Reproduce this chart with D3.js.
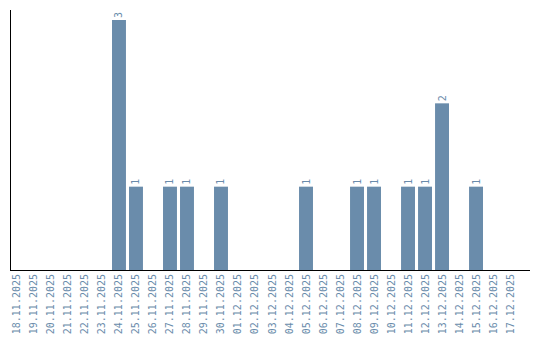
<!DOCTYPE html>
<html>
<head>
<meta charset="utf-8">
<script src="https://cdn.jsdelivr.net/npm/d3@7"></script>
<style>
  body { margin: 0; background: #fff; }
  text { font-family: "DejaVu Sans Mono", monospace; font-size: 10px; fill: #6a8cab; }
</style>
</head>
<body>
<svg id="chart" width="540" height="340"></svg>
<script>
// dates shown on the x axis
var days = [
  "18.11.2025", "19.11.2025", "20.11.2025", "21.11.2025", "22.11.2025",
  "23.11.2025", "24.11.2025", "25.11.2025", "26.11.2025", "27.11.2025",
  "28.11.2025", "29.11.2025", "30.11.2025", "01.12.2025", "02.12.2025",
  "03.12.2025", "04.12.2025", "05.12.2025", "06.12.2025", "07.12.2025",
  "08.12.2025", "09.12.2025", "10.12.2025", "11.12.2025", "12.12.2025",
  "13.12.2025", "14.12.2025", "15.12.2025", "16.12.2025", "17.12.2025"
];
// count per day
var counts = [0, 0, 0, 0, 0, 0, 3, 1, 0, 1, 1, 0, 1, 0, 0, 0, 0, 1, 0, 0, 1, 1, 0, 1, 1, 2, 0, 1, 0, 0];

var svg = d3.select("#chart");
var barColor = "#6a8cab";

var x = d3.scaleBand()
  .domain(days)
  .range([10, 517])
  .paddingInner(0.18)
  .paddingOuter(0);

var y = d3.scaleLinear()
  .domain([0, d3.max(counts)])
  .range([270, 20]);

var data = days.map(function (d, i) { return { day: d, value: counts[i] }; });

// bars
svg.selectAll(".bar")
  .data(data.filter(function (d) { return d.value > 0; }))
  .enter().append("rect")
  .attr("class", "bar")
  .attr("x", function (d) { return x(d.day); })
  .attr("y", function (d) { return y(d.value); })
  .attr("width", x.bandwidth())
  .attr("height", function (d) { return y(0) - y(d.value); })
  .style("fill", barColor);

// value labels above the bars
svg.selectAll(".val")
  .data(data.filter(function (d) { return d.value > 0; }))
  .enter().append("text")
  .attr("class", "val")
  .attr("transform", function (d) {
    return "translate(" + (x(d.day) + x.bandwidth() / 2) + "," + (y(d.value) - 2) + ") rotate(-90)";
  })
  .attr("dy", "0.35em")
  .text(function (d) { return d.value; });

// x axis labels
svg.selectAll(".lab")
  .data(days)
  .enter().append("text")
  .attr("class", "lab")
  .attr("text-anchor", "end")
  .attr("transform", function (d) {
    return "translate(" + (x(d) + x.bandwidth() / 2) + ",274) rotate(-90)";
  })
  .attr("dy", "0.35em")
  .text(function (d) { return d; });

// axis lines
svg.append("line")
  .attr("x1", 10.5).attr("x2", 10.5)
  .attr("y1", 10).attr("y2", 270)
  .style("stroke", "#000");
svg.append("line")
  .attr("x1", 10).attr("x2", 530)
  .attr("y1", 270.5).attr("y2", 270.5)
  .style("stroke", "#000");
</script>
</body>
</html>
